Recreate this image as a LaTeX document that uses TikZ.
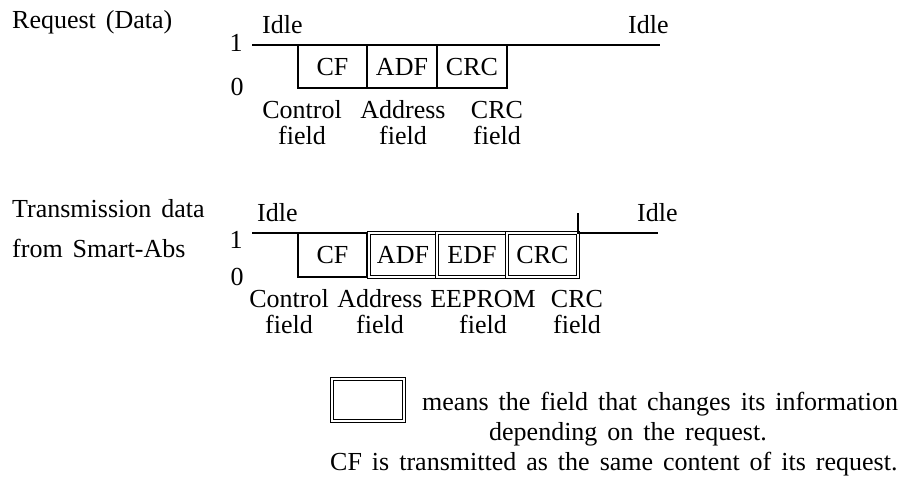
\documentclass[tikz,border=0pt]{standalone}
\usepackage{fontspec}
\setmainfont{Liberation Serif}
\usetikzlibrary{positioning}
\newcommand\sigfont{\fontsize{26}{26.5}\selectfont\spaceskip=10pt plus 2pt minus 1pt\relax}
\newcommand\twoline[2]{\begin{tabular}[t]{@{}c@{}}#1\\#2\end{tabular}}

\begin{document}
\begin{tikzpicture}[x=1pt, y=-1pt, font=\sigfont,
    field/.style={draw, line width=1.5pt, minimum width=70pt, minimum height=44pt, inner sep=0pt, outer sep=0pt, text height=17pt, text depth=0pt},
    varfield/.style={field, line width=1pt, double, double distance=2.4pt},
    level/.style={line width=1.5pt},
    tag/.style={anchor=base, inner sep=0pt},
    note/.style={anchor=base west, inner sep=0pt}]

  \useasboundingbox (0,0) rectangle (903,493);

  % request frame
  \node[note] (req) at (12,28) {Request (Data)};
  \node (one1) at (236,43) {1};
  \node (zero1) at (237,87) {0};
  \node[note] (idle1L) at (262,33) {Idle};
  \node[note] (idle1R) at (628,33) {Idle};
  \coordinate (start1) at (252,45);
  \coordinate (end1) at (660,45);
  \draw[level] (start1) -- (end1);
  \node[field, minimum width=69pt, minimum height=43pt] (cf1) at (332.5,66.5) {CF};
  \node[field, minimum height=43pt, right=0pt of cf1] (adf1) {ADF};
  \node[field, minimum height=43pt, right=0pt of adf1] (crc1) {CRC};
  \node[tag] (ctl1) at (302,118) {\twoline{Control}{field}};
  \node[tag] (adr1) at (403,118) {\twoline{Address}{field}};
  \node[tag] (crcl1) at (497,118) {\twoline{CRC}{field}};

  % answer frame
  \node[anchor=north west, align=left, inner sep=0pt] (tx) at (12,199) {Transmission data\\[13.5pt]from Smart-Abs};
  \node (one2) at (236,240) {1};
  \node (zero2) at (237,277) {0};
  \node[note] (idle2L) at (257,221) {Idle};
  \node[note] (idle2R) at (637,221) {Idle};
  \node[field, minimum width=69pt] (cf2) at (332.5,255) {CF};
  \node[varfield, minimum width=68pt, right=2pt of cf2] (adf2) {ADF};
  \node[varfield, right=0pt of adf2] (edf2) {EDF};
  \node[varfield, minimum width=71pt, right=0pt of edf2] (crc2) {CRC};
  \coordinate (start2) at (252,233);
  \coordinate (end2) at (658,233);
  \draw[level] (start2) -- (cf2.north west);
  \draw[level] ([yshift=20pt]crc2.north east) -- (crc2.north east) -- (end2);
  \node[tag] (ctl2) at (289,307) {\twoline{Control}{field}};
  \node[tag] (adr2) at (380,307) {\twoline{Address}{field}};
  \node[tag] (eep2) at (483,307) {\twoline{EEPROM}{field}};
  \node[tag] (crcl2) at (577,307) {\twoline{CRC}{field}};

  % legend
  \node[varfield, minimum width=72pt, minimum height=42pt] (chg) at (368,400) {};
  \node[note] (means) at (422,410) {means the field that changes its information};
  \node[anchor=base, inner sep=0pt] (dep) at (628,440) {depending on the request.};
  \node[note] (same) at (330,470) {CF is transmitted as the same content of its request.};
\end{tikzpicture}
\end{document}
